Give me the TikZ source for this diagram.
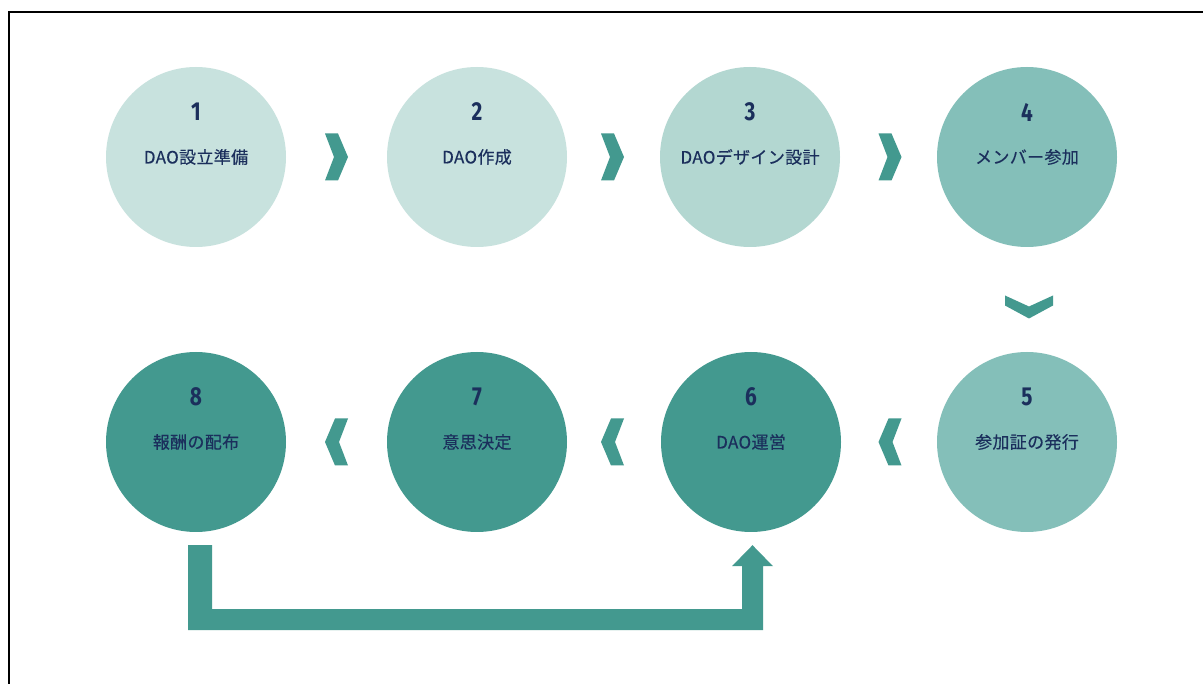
\documentclass[tikz,border=0pt]{standalone}
\usepackage{fontspec}
\newfontfamily\jpfont[FakeBold=0.4,LetterSpace=2]{Noto Sans CJK JP}
\newfontfamily\numfont[FakeStretch=0.8]{Fira Sans}
\usetikzlibrary{calc}
\definecolor{cLight}{HTML}{C8E2DE}
\definecolor{cMidL}{HTML}{B3D7D1}
\definecolor{cMid}{HTML}{84BFB9}
\definecolor{cDark}{HTML}{43998F}
\definecolor{cText}{HTML}{1B2F5C}
\begin{document}
\begin{tikzpicture}[x=1pt,y=-1pt,
  stepcircle/.style={circle,minimum size=180pt,inner sep=0pt,text=cText,font=\jpfont\fontsize{17}{19}\selectfont},
  numlabel/.style={text=cText,font=\numfont\bfseries\fontsize{26}{27}\selectfont,inner sep=0pt},
  chevR/.pic={\fill[cDark] (-11.5,-23.5) -- (1.5,-23.5) -- (11.5,0) -- (1.5,23.5) -- (-11.5,23.5) -- (-2.5,0) -- cycle;},
  chevL/.pic={\fill[cDark] (11.5,-23.5) -- (-1.5,-23.5) -- (-11.5,0) -- (-1.5,23.5) -- (11.5,23.5) -- (2.5,0) -- cycle;},
  chevD/.pic={\fill[cDark] (-24,-11.5) -- (-24,-1.5) -- (0,11.5) -- (24,-1.5) -- (24,-11.5) -- (0,-0.5) -- cycle;}
]
\useasboundingbox (0,0) rectangle (1203,684);
\fill[white] (0,0) rectangle (1203,684);
\draw[line width=2.3pt] (9.2,684) -- (9.2,12.2) -- (1203,12.2);

% circles
\node[stepcircle,fill=cLight] (c1) at (196,157) {DAO設立準備};
\node[stepcircle,fill=cLight] (c2) at (477,157) {DAO作成};
\node[stepcircle,fill=cMidL]  (c3) at (750,157) {DAOデザイン設計};
\node[stepcircle,fill=cMid]   (c4) at (1027,157) {メンバー参加};
\node[stepcircle,fill=cMid]   (c5) at (1027,442) {参加証の発行};
\node[stepcircle,fill=cDark]  (c6) at (751,442) {DAO運営};
\node[stepcircle,fill=cDark]  (c7) at (477,442) {意思決定};
\node[stepcircle,fill=cDark]  (c8) at (196,442) {報酬の配布};

% numbers
\foreach \i in {1,...,8}{
  \node[numlabel] (n\i) at ($(c\i.center)+(0,-45)$) {\i};
}

% chevrons
\pic at (336.5,157) {chevR};
\pic at (612.5,157) {chevR};
\pic at (890,157) {chevR};
\pic at (1029,307) {chevD};
\pic at (890,442) {chevL};
\pic at (612.5,442) {chevL};
\pic at (336.5,442) {chevL};

% feedback block arrow from 8 to 6
\coordinate (aS) at ($(c8.south)+(4,13)$);
\coordinate (aE) at ($(c6.south)+(1.5,13)$);
\fill[cDark] ($(aS)+(-12,0)$) -- ($(aS)+(12,0)$) -- ($(aS)+(12,64)$)
  -- ($(aE)+(-10.5,64)$) -- ($(aE)+(-10.5,21)$) -- ($(aE)+(-20.5,21)$)
  -- (aE) -- ($(aE)+(20.5,21)$) -- ($(aE)+(10.5,21)$) -- ($(aE)+(10.5,85)$)
  -- ($(aS)+(-12,85)$) -- cycle;
\end{tikzpicture}
\end{document}
